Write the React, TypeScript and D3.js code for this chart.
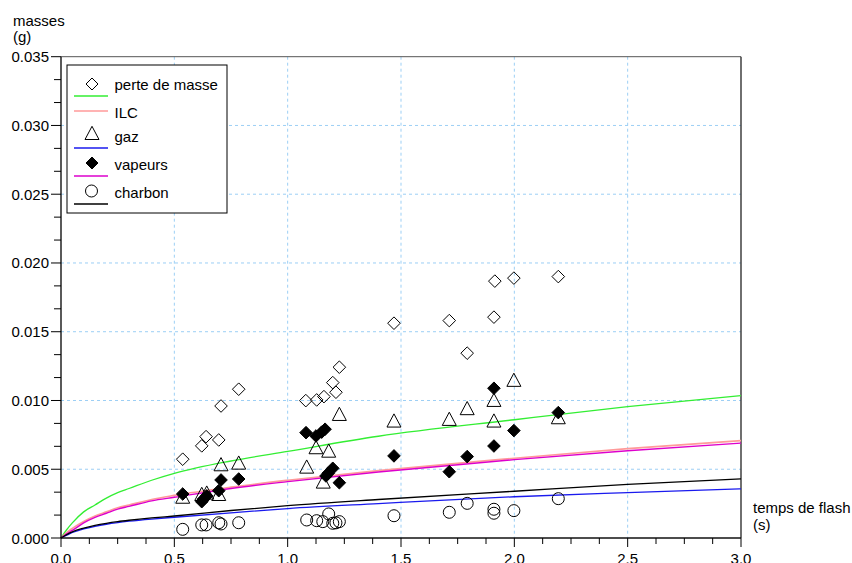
import React from "react";
import * as d3 from "d3";

// ---- data ----
const curveX = [0, 0.025, 0.05, 0.1, 0.15, 0.2, 0.25, 0.3, 0.4, 0.5, 0.75, 1.0, 1.4, 2.0, 2.5, 3.0];
const curvePerte = [0, 0.0006, 0.0011, 0.0019, 0.0024, 0.0029, 0.0033, 0.0036, 0.0042, 0.0047, 0.0056, 0.0063, 0.0074, 0.0086, 0.00955, 0.01036];
const curveILC = [0, 0.0004, 0.0007, 0.0012, 0.0016, 0.0019, 0.0022, 0.0024, 0.0028, 0.0031, 0.0037, 0.0042, 0.0049, 0.0058, 0.0065, 0.00708];
const curveGaz = [0, 0.0002, 0.0004, 0.00066, 0.00085, 0.001, 0.00112, 0.00122, 0.00138, 0.00151, 0.00183, 0.00214, 0.0025, 0.003, 0.0033, 0.00357];
const curveVapeurs = [0, 0.0003, 0.00055, 0.0011, 0.0015, 0.0018, 0.0021, 0.0023, 0.0027, 0.00296, 0.0036, 0.0041, 0.0048, 0.0057, 0.00635, 0.0069];
const curveCharbon = [0, 0.00025, 0.00045, 0.00072, 0.00092, 0.00107, 0.00119, 0.00129, 0.00146, 0.0016, 0.002, 0.00235, 0.0028, 0.0034, 0.0039, 0.0043];

const perteX = [0.537, 0.621, 0.64, 0.696, 0.706, 0.784, 1.08, 1.128, 1.16, 1.199, 1.213, 1.228, 1.469, 1.713, 1.792, 1.91, 1.914, 1.998, 2.194];
const perteY = [0.00573, 0.0067, 0.00737, 0.00713, 0.0096, 0.01082, 0.00999, 0.01004, 0.01028, 0.0113, 0.0106, 0.01242, 0.01562, 0.01581, 0.01344, 0.01606, 0.01868, 0.0189, 0.01901];

const gazX = [0.537, 0.621, 0.643, 0.696, 0.706, 0.784, 1.084, 1.125, 1.157, 1.181, 1.228, 1.469, 1.713, 1.792, 1.91, 1.91, 1.998, 2.194];
const gazY = [0.003, 0.0032, 0.0033, 0.0032, 0.00536, 0.00548, 0.00519, 0.0066, 0.0041, 0.00635, 0.00902, 0.00854, 0.00866, 0.00944, 0.01004, 0.00854, 0.0115, 0.00878];

const vapX = [0.537, 0.621, 0.628, 0.643, 0.696, 0.706, 0.784, 1.081, 1.125, 1.15, 1.165, 1.169, 1.179, 1.199, 1.228, 1.469, 1.713, 1.792, 1.91, 1.91, 1.998, 2.194];
const vapY = [0.0032, 0.00264, 0.00282, 0.00306, 0.00344, 0.00422, 0.00429, 0.00766, 0.00742, 0.0077, 0.00791, 0.00451, 0.00471, 0.00507, 0.00402, 0.00597, 0.00482, 0.00592, 0.00669, 0.01089, 0.00781, 0.00912];

const charX = [0.537, 0.621, 0.64, 0.696, 0.706, 0.784, 1.084, 1.128, 1.155, 1.181, 1.199, 1.213, 1.228, 1.469, 1.713, 1.792, 1.91, 1.91, 1.998, 2.194];
const charY = [0.00063, 0.00095, 0.00095, 0.00111, 0.00102, 0.00111, 0.00131, 0.00126, 0.00119, 0.00175, 0.00107, 0.0011, 0.00119, 0.00162, 0.00187, 0.00252, 0.00209, 0.0018, 0.00199, 0.00286];

const xTicks = [0, 0.5, 1.0, 1.5, 2.0, 2.5, 3.0];
const yTicks = [0, 0.005, 0.01, 0.015, 0.02, 0.025, 0.03, 0.035];
const legendLabels = ["perte de masse", "ILC", "gaz", "vapeurs", "charbon"];

const FONT = "'Liberation Sans', Arial, Helvetica, sans-serif";

export default function App() {
  const W = 852, H = 563;
  const x = d3.scaleLinear().domain([0, 3]).range([61, 741]);
  const y = d3.scaleLinear().domain([0, 0.035]).range([538, 56.7]);

  const line = d3
    .line<[number, number]>()
    .x((d) => x(d[0]))
    .y((d) => y(d[1]))
    .curve(d3.curveMonotoneX);
  const mk = (ys: number[]) => line(curveX.map((v, i) => [v, ys[i]] as [number, number])) || "";

  const xMinor = d3.range(0, 3.0001, 0.125);
  const yMinor = d3.range(0, 0.0350001, 0.005 / 3);

  const diamond = (cx: number, cy: number, r: number) =>
    `M${cx},${cy - r}L${cx + r},${cy}L${cx},${cy + r}L${cx - r},${cy}Z`;
  const tri = (cx: number, cy: number) =>
    `M${cx},${cy - 6.7}L${cx + 7},${cy + 6.5}L${cx - 7},${cy + 6.5}Z`;

  const gridColor = "#9ccff5";

  return (
    <svg width={W} height={H} style={{ position: "absolute", left: 0, top: 0, background: "#fff" }} fontFamily={FONT}>
      {/* grid */}
      {xTicks.slice(1, -1).map((t) => (
        <line key={"gx" + t} x1={x(t)} x2={x(t)} y1={y(0.035)} y2={y(0)} stroke={gridColor} strokeDasharray="3,3" />
      ))}
      {yTicks.slice(1, -1).map((t) => (
        <line key={"gy" + t} x1={x(0)} x2={x(3)} y1={y(t)} y2={y(t)} stroke={gridColor} strokeDasharray="3,3" />
      ))}
      {/* frame */}
      <line x1={x(0)} x2={x(3)} y1={y(0.035)} y2={y(0.035)} stroke="#555" strokeWidth={1} />
      <line x1={x(3)} x2={x(3)} y1={y(0.035)} y2={y(0)} stroke="#222" strokeWidth={1.3} />

      {/* curves */}
      <path d={mk(curvePerte)} fill="none" stroke="#33ee33" strokeWidth={1.3} />
      <path d={mk(curveILC)} fill="none" stroke="#ff9a9a" strokeWidth={1.6} />
      <path d={mk(curveGaz)} fill="none" stroke="#1a1aee" strokeWidth={1.3} />
      <path d={mk(curveVapeurs)} fill="none" stroke="#dd00cc" strokeWidth={1.4} />
      <path d={mk(curveCharbon)} fill="none" stroke="#000" strokeWidth={1.3} />

      {/* markers */}
      {perteX.map((v, i) => (
        <path key={"p" + i} d={diamond(x(v), y(perteY[i]), 6.3)} fill="none" stroke="#000" strokeWidth={1} />
      ))}
      {gazX.map((v, i) => (
        <path key={"g" + i} d={tri(x(v), y(gazY[i]))} fill="none" stroke="#000" strokeWidth={1} />
      ))}
      {vapX.map((v, i) => (
        <path key={"v" + i} d={diamond(x(v), y(vapY[i]), 6.3)} fill="#000" stroke="#000" strokeWidth={1} />
      ))}
      {charX.map((v, i) => (
        <circle key={"c" + i} cx={x(v)} cy={y(charY[i])} r={6} fill="none" stroke="#000" strokeWidth={1} />
      ))}

      {/* axes */}
      <line x1={x(0)} x2={x(3)} y1={y(0)} y2={y(0)} stroke="#111" strokeWidth={1.6} />
      <line x1={x(0)} x2={x(0)} y1={y(0)} y2={y(0.035)} stroke="#000" strokeWidth={1.3} />
      {xMinor.map((t, i) => (
        <line key={"xm" + i} x1={x(t)} x2={x(t)} y1={y(0)} y2={y(0) + (i % 4 === 0 ? 9 : 6)} stroke="#000" strokeWidth={1} />
      ))}
      {yMinor.map((t, i) => (
        <line key={"ym" + i} x1={x(0)} x2={x(0) - (i % 3 === 0 ? 10 : 7)} y1={y(t)} y2={y(t)} stroke="#000" strokeWidth={1} />
      ))}
      {xTicks.map((t) => (
        <text key={"xl" + t} x={x(t)} y={564} fontSize={15} textAnchor="middle" fill="#000">
          {d3.format(".1f")(t)}
        </text>
      ))}
      {yTicks.map((t) => (
        <text key={"yl" + t} x={49} y={y(t) + 5.5} fontSize={15} textAnchor="end" fill="#000">
          {d3.format(".3f")(t)}
        </text>
      ))}
      <text x={13} y={26} fontSize={15} fill="#000">masses</text>
      <text x={13} y={42} fontSize={15} fill="#000">(g)</text>
      <text x={753} y={513} fontSize={15} fill="#000">temps de flash</text>
      <text x={753} y={530} fontSize={15} fill="#000">(s)</text>

      {/* legend */}
      <rect x={67} y={65} width={160} height={148} fill="#fff" stroke="#000" strokeWidth={1} />
      <path d={diamond(92, 84, 6)} fill="none" stroke="#000" />
      <path d={tri(92, 133)} fill="none" stroke="#000" />
      <path d={diamond(92, 163, 6)} fill="#000" stroke="#000" />
      <circle cx={91.5} cy={191} r={6} fill="none" stroke="#000" />
      <line x1={74} x2={108} y1={96} y2={96} stroke="#33ee33" strokeWidth={1.3} />
      <line x1={74} x2={108} y1={111} y2={111} stroke="#ff9a9a" strokeWidth={1.3} />
      <line x1={74} x2={108} y1={148} y2={148} stroke="#1a1aee" strokeWidth={1.3} />
      <line x1={74} x2={108} y1={176} y2={176} stroke="#dd00cc" strokeWidth={1.3} />
      <line x1={74} x2={108} y1={204} y2={204} stroke="#000" strokeWidth={1.3} />
      {legendLabels.map((l, i) => (
        <text key={l} x={114.5} y={[90, 118, 142, 170, 198][i]} fontSize={15} fill="#000">
          {l}
        </text>
      ))}
    </svg>
  );
}
